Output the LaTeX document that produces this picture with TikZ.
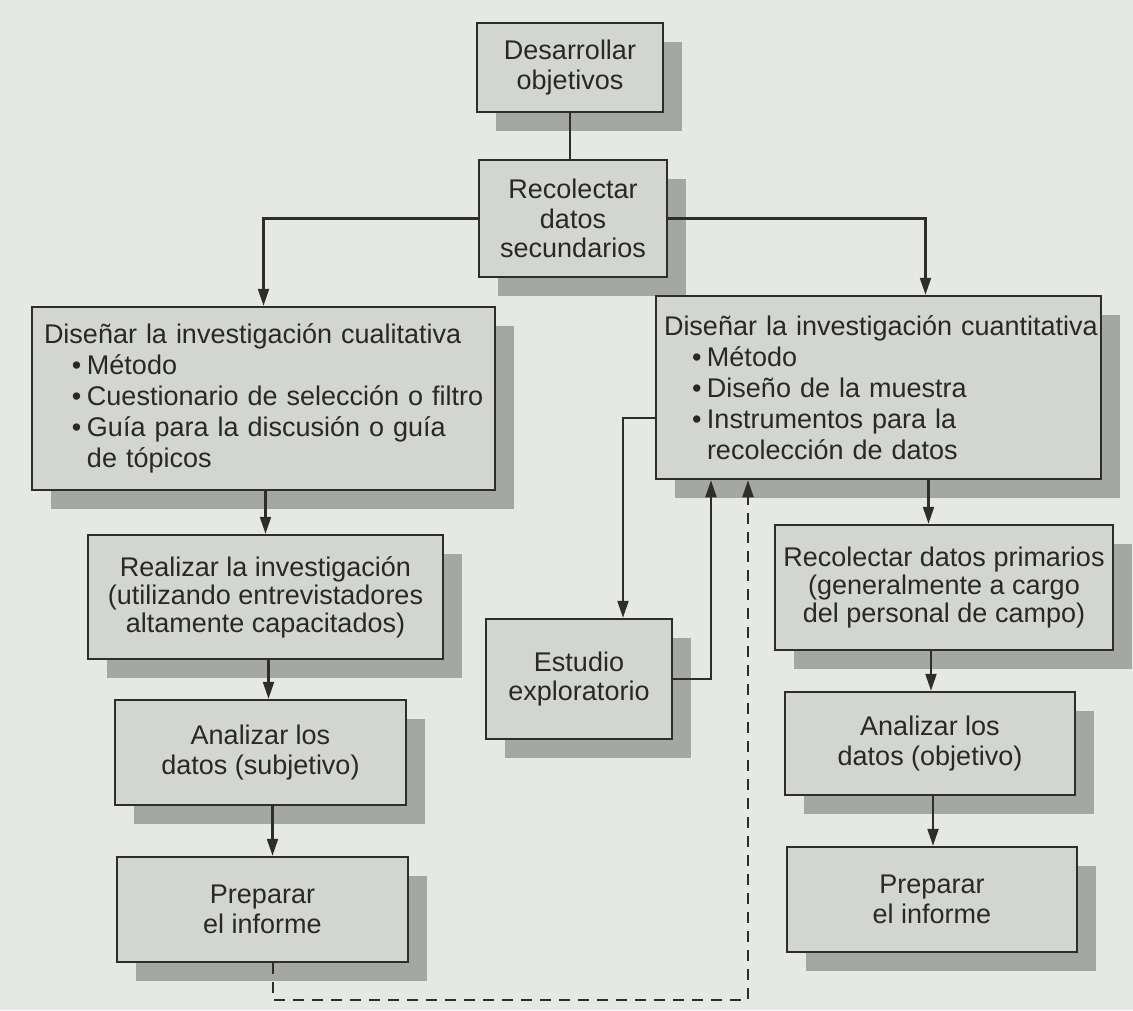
\documentclass[tikz,border=0pt]{standalone}
\usepackage{fontspec}
\setmainfont{Liberation Sans}
\usetikzlibrary{arrows.meta,shadows,calc}
\definecolor{bgc}{RGB}{229,232,227}
\definecolor{boxc}{RGB}{210,213,208}
\definecolor{shadc}{RGB}{165,167,163}
\definecolor{linec}{RGB}{45,45,45}
\definecolor{txtc}{RGB}{40,40,40}
\newcommand{\boxfont}{\fontsize{27}{29.5}\selectfont}
\newcommand{\tightfont}{\fontsize{27}{28}\selectfont}
\newcommand{\listfont}{\fontsize{27}{31}\selectfont}
\newcommand{\bitem}[1]{\mbox{\hspace*{28pt}\makebox[15pt][l]{•}#1}}
\newcommand{\bcont}[1]{\mbox{\hspace*{43pt}#1}}
\begin{document}
\begin{tikzpicture}[x=1pt,y=1pt,
  box/.style={draw=linec, line width=2.5pt, fill=boxc, text=txtc, font=\boxfont,
    align=center, inner sep=0pt,
    drop shadow={shadow xshift=19pt, shadow yshift=-19pt, fill=shadc, opacity=1}},
  lbox/.style={box, align=left, font=\listfont},
  conn/.style={draw=linec, line width=2.2pt},
  arr/.style={conn, -{Triangle[width=11pt,length=17pt]}},
  dashline/.style={conn, line width=2.4pt, dash pattern=on 11pt off 8pt, -{Triangle[width=11pt,length=17pt]}}]

\fill[bgc] (0,0) rectangle (1133,-1010);
\useasboundingbox (0,0) rectangle (1133,-1010);

% top
\node[box, minimum width=186pt, minimum height=89pt] (A) at (570,-67.5) {Desarrollar\\objetivos};
\node[box, minimum width=188pt, minimum height=117pt] (B) at (573,-218.5) {Recolectar\\datos\\secundarios};

% design boxes
\node[lbox, inner xsep=12pt, text width=439pt, minimum height=183pt] (C) at (263.5,-398.5)
  {\mbox{Diseñar la investigación cualitativa}\\
   \bitem{Método}\\
   \bitem{Cuestionario de selección o filtro}\\
   \bitem{Guía para la discusión o guía}\\
   \bcont{de tópicos}};
\node[lbox, inner xsep=8pt, text width=429pt, minimum height=183pt] (D) at (878.5,-387.5)
  {\mbox{Diseñar la investigación cuantitativa}\\
   \bitem{Método}\\
   \bitem{Diseño de la muestra}\\
   \bitem{Instrumentos para la}\\
   \bcont{recolección de datos}};

% left column
\node[box, font=\tightfont, minimum width=355pt, minimum height=124pt] (E) at (265.5,-597)
  {Realizar la investigación\\(utilizando entrevistadores\\altamente capacitados)};
\node[box, minimum width=291pt, minimum height=105pt] (F) at (260.5,-752.5) {Analizar los\\datos (subjetivo)};
\node[box, minimum width=291pt, minimum height=105pt] (G) at (262.5,-909.5) {Preparar\\el informe};

% middle
\node[box, minimum width=186pt, minimum height=120pt] (H) at (579,-679) {Estudio\\exploratorio};

% right column
\node[box, font=\tightfont, minimum width=338pt, minimum height=125pt] (I) at (944,-587.5)
  {Recolectar datos primarios\\(generalmente a cargo\\del personal de campo)};
\node[box, minimum width=290pt, minimum height=103pt] (J) at (930,-743.5) {Analizar los\\datos (objetivo)};
\node[box, minimum width=290pt, minimum height=105pt] (K) at (932,-899.5) {Preparar\\el informe};

% connectors
\draw[conn] (A.south) -- (A.south |- B.north);
\draw[arr] (B.west) -| (C.north);
\draw[arr] (B.east) -| ([xshift=47pt]D.north);
\draw[arr] ([xshift=50pt]D.south) -- ([xshift=50pt]D.south |- I.north);
\draw[arr] ([xshift=2pt]C.south) -- ([xshift=2pt]C.south |- E.north);
\draw[arr] ([xshift=3pt]E.south) -- ([xshift=3pt]E.south |- F.north);
\draw[arr] ([xshift=12pt]F.south) -- ([xshift=12pt]F.south |- G.north);
\draw[arr] ([xshift=-13pt]I.south) -- ([xshift=-13pt]I.south |- J.north);
\draw[arr] ([xshift=3pt]J.south) -- ([xshift=3pt]J.south |- K.north);
\draw[arr] ([yshift=-30.5pt]D.west) -| ([xshift=44pt]H.north);
\draw[arr] (H.east) -| ([xshift=-167.5pt]D.south);

\coordinate (dl) at (273,-1000);
\coordinate (dr) at (748,-1000);
\draw[dashline] ([xshift=10.5pt]G.south) -- (dl) -- (dr) -- (dr |- D.south);
\end{tikzpicture}
\end{document}
